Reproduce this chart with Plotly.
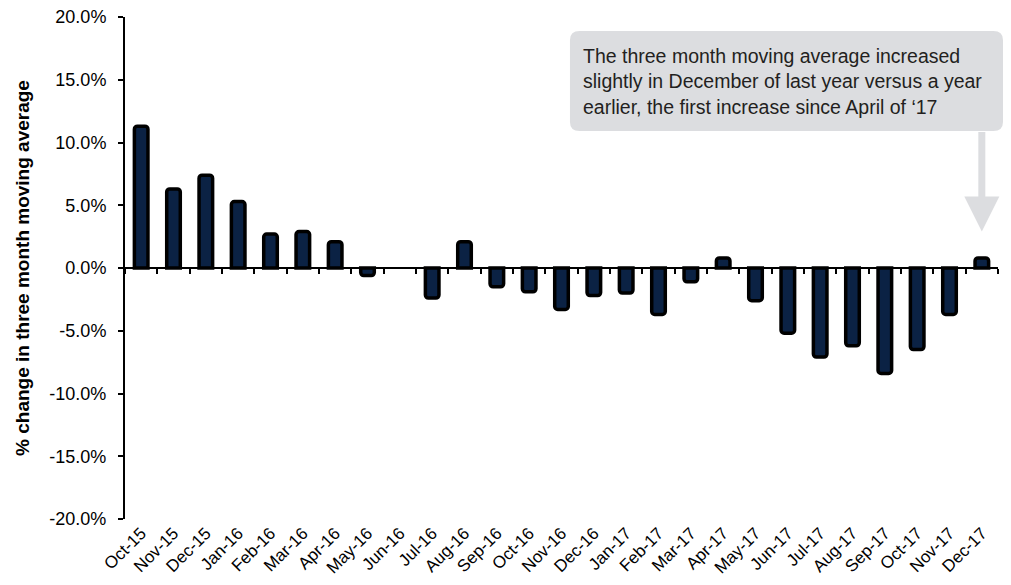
import plotly.graph_objects as go

MONTHS = ["Oct-15", "Nov-15", "Dec-15", "Jan-16", "Feb-16", "Mar-16", "Apr-16",
          "May-16", "Jun-16", "Jul-16", "Aug-16", "Sep-16", "Oct-16", "Nov-16",
          "Dec-16", "Jan-17", "Feb-17", "Mar-17", "Apr-17", "May-17", "Jun-17",
          "Jul-17", "Aug-17", "Sep-17", "Oct-17", "Nov-17", "Dec-17"]

# % change in three month moving average, year over year
PCT_CHANGE = [11.3, 6.3, 7.4, 5.3, 2.7, 2.9, 2.1,
              -0.6, 0.0, -2.4, 2.1, -1.5, -1.9, -3.3,
              -2.2, -2.0, -3.7, -1.1, 0.8, -2.6, -5.2,
              -7.1, -6.2, -8.4, -6.5, -3.7, 0.8]

Y_TICKS = [-20, -15, -10, -5, 0, 5, 10, 15, 20]
Y_TICK_TEXT = ["-20.0%", "-15.0%", "-10.0%", "-5.0%", "0.0%",
               "5.0%", "10.0%", "15.0%", "20.0%"]

NOTE = ("The three month moving average increased<br>"
        "slightly in December of last year versus a year<br>"
        "earlier, the first increase since April of \u201817")

NAVY = "#0b2244"
GREY = "#dcdde0"
FONT = "Liberation Sans"


def rounded_box(x0, y0, x1, y1, rx, ry):
    """SVG path for a rounded rectangle in paper coords."""
    return (f"M{x0 + rx},{y0} L{x1 - rx},{y0} Q{x1},{y0} {x1},{y0 + ry} "
            f"L{x1},{y1 - ry} Q{x1},{y1} {x1 - rx},{y1} "
            f"L{x0 + rx},{y1} Q{x0},{y1} {x0},{y1 - ry} "
            f"L{x0},{y0 + ry} Q{x0},{y0} {x0 + rx},{y0} Z")


fig = go.Figure()

# no outline on a zero-height bar (Jun-16 shows nothing)
outline = [0 if v == 0 else 3.5 for v in PCT_CHANGE]

fig.add_trace(go.Bar(
    x=MONTHS, y=PCT_CHANGE,
    marker=dict(color=NAVY, line=dict(color="black", width=outline), cornerradius=3),
    hovertemplate="%{x}: %{y:.1f}%<extra></extra>",
    showlegend=False,
))

# invisible twin so the zero-line axis (with boundary ticks) gets drawn
fig.add_trace(go.Scatter(
    x=MONTHS, y=PCT_CHANGE, xaxis="x2", mode="markers",
    marker=dict(opacity=0), hoverinfo="skip", showlegend=False,
))

# page body has an 8px margin, so the figure is a bit smaller than the window
fig.update_layout(
    width=1003, height=577,
    margin=dict(l=117, r=13, t=9, b=66),
    plot_bgcolor="white", paper_bgcolor="white",
    font=dict(family=FONT, color="black"),
    bargap=0.58,
    xaxis=dict(
        type="category", categoryorder="array", categoryarray=MONTHS,
        range=[-0.5, len(MONTHS) - 0.5], automargin=False,
        tickangle=-45, tickfont=dict(size=17), ticklabeloverflow="allow",
        showline=False, ticks="", showgrid=False, zeroline=False,
    ),
    xaxis2=dict(
        type="category", categoryorder="array", categoryarray=MONTHS,
        overlaying="x", anchor="free", position=0.5, matches="x",
        automargin=False,
        showticklabels=False, showline=True, linecolor="black", linewidth=2,
        ticks="outside", tickson="boundaries", ticklen=5, tickwidth=2,
        tickcolor="black", showgrid=False, zeroline=False,
    ),
    yaxis=dict(
        range=[-20, 20], tickvals=Y_TICKS, ticktext=Y_TICK_TEXT,
        tickfont=dict(size=18), ticklabelstandoff=8, automargin=False,
        ticklabeloverflow="allow",
        showline=True, linecolor="black", linewidth=2,
        ticks="outside", ticklen=5, tickwidth=2, tickcolor="black",
        showgrid=False, zeroline=False,
        title=dict(text="% change in three month moving average",
                   font=dict(size=19, family=FONT, weight="bold")),
    ),
)

# callout box (rounded grey panel) + text + arrow down to Dec-17
fig.add_shape(
    type="path", xref="paper", yref="paper",
    path=rounded_box(0.5097, 0.773, 1.0057, 0.972, 0.011, 0.018),
    fillcolor=GREY, line=dict(width=0), layer="below",
)

fig.add_annotation(
    xref="paper", yref="paper", x=0.5235, y=0.8725, xanchor="left", yanchor="middle",
    text=NOTE, showarrow=False, align="left",
    font=dict(size=19.5, color="#231f20", family=FONT),
    borderpad=0,
)

fig.add_annotation(
    x=MONTHS[-1], y=2.9, ax=0, ay=-101, text="",
    showarrow=True, arrowhead=2, arrowsize=1.0, arrowwidth=7, arrowcolor=GREY,
)

fig.write_html("out.html")
